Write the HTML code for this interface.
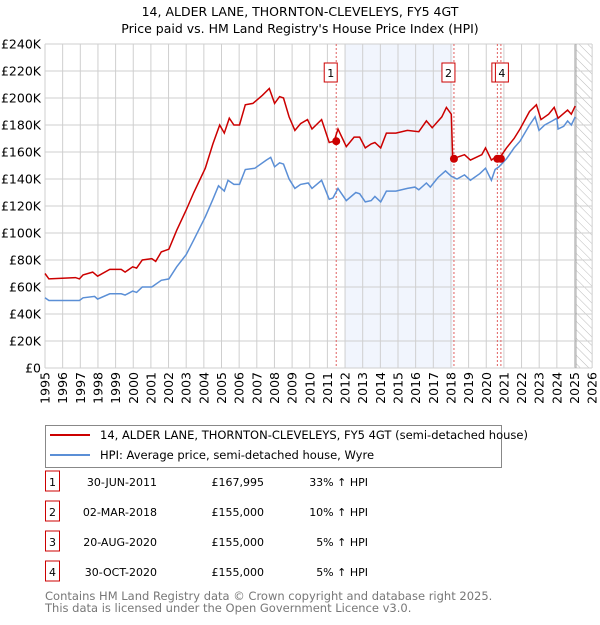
<!DOCTYPE html>
<html><head><meta charset="utf-8"><style>
body{margin:0;background:#fff;font-family:"Liberation Sans","DejaVu Sans",sans-serif;}
svg text{font-family:"DejaVu Sans","Liberation Sans",sans-serif;}
</style></head><body>
<svg width="600" height="620" xmlns="http://www.w3.org/2000/svg">
<defs><pattern id="hatch" width="6" height="6" patternUnits="userSpaceOnUse" patternTransform="rotate(-45)"><line x1="0" y1="0" x2="0" y2="6" stroke="#bbb" stroke-width="1"/></pattern></defs>
<text x="300" y="16" text-anchor="middle" font-size="12.5">14, ALDER LANE, THORNTON-CLEVELEYS, FY5 4GT</text>
<text x="300" y="33" text-anchor="middle" font-size="12.5">Price paid vs. HM Land Registry's House Price Index (HPI)</text>
<g id="plot"></g>
<g>
<rect x="45.5" y="425.5" width="456" height="42" fill="#fff" stroke="#888"/>
<line x1="50" y1="435" x2="90" y2="435" stroke="#cc0000" stroke-width="2"/>
<text x="100" y="439" font-size="11.5">14, ALDER LANE, THORNTON-CLEVELEYS, FY5 4GT (semi-detached house)</text>
<line x1="50" y1="455" x2="90" y2="455" stroke="#5b8fd6" stroke-width="2"/>
<text x="100" y="459" font-size="11.5">HPI: Average price, semi-detached house, Wyre</text>
</g>
<g id="table" font-size="11"></g>
<text x="45" y="600" font-size="11.5" fill="#777">Contains HM Land Registry data © Crown copyright and database right 2025.</text>
<text x="45" y="612" font-size="11.5" fill="#777">This data is licensed under the Open Government Licence v3.0.</text>
</svg>
<script>
const hpiYears=[1995.00,1995.22,1996.73,1996.95,1997.16,1997.81,1997.98,1998.67,1999.32,1999.54,1999.97,2000.19,2000.51,2001.05,2001.59,2002.02,2002.46,2003.00,2003.43,2004.08,2004.51,2004.83,2005.16,2005.37,2005.70,2006.02,2006.35,2006.89,2007.54,2007.79,2008.01,2008.29,2008.51,2008.83,2009.16,2009.48,2009.91,2010.13,2010.67,2011.10,2011.32,2011.60,2012.07,2012.61,2012.83,2013.15,2013.48,2013.69,2014.02,2014.34,2014.88,2015.53,2015.96,2016.18,2016.61,2016.83,2017.26,2017.69,2018.02,2018.34,2018.77,2019.10,2019.64,2019.96,2020.29,2020.50,2020.72,2021.15,2021.58,2021.91,2022.45,2022.77,2022.99,2023.31,2023.74,2024.00,2024.07,2024.39,2024.61,2024.82,2025.04];
const hpiValues=[52,50,50,50,52,53,51,55,55,54,57,56,60,60,65,66,75,84,95,112,125,135,131,139,136,136,147,148,154,156,149,152,151,140,133,136,137,133,139,125,126,133,124,130,129,123,124,127,123,131,131,133,134,132,137,134,141,146,142,140,143,139,144,148,139,147,149,155,163,168,180,186,176,180,183,185,177,179,183,180,186];
const priceYears=[1995.00,1995.22,1996.73,1996.95,1997.16,1997.70,1997.98,1998.67,1999.32,1999.54,1999.97,2000.19,2000.51,2001.05,2001.27,2001.59,2002.02,2002.46,2003.00,2003.43,2004.08,2004.51,2004.90,2005.16,2005.44,2005.70,2006.02,2006.35,2006.78,2007.32,2007.71,2008.01,2008.29,2008.51,2008.83,2009.16,2009.48,2009.87,2010.13,2010.67,2011.10,2011.38,2011.60,2012.07,2012.51,2012.83,2013.15,2013.48,2013.69,2014.02,2014.34,2014.88,2015.53,2016.18,2016.61,2016.94,2017.48,2017.74,2018.02,2018.10,2018.77,2019.10,2019.75,2019.96,2020.29,2020.50,2020.72,2021.15,2021.58,2021.91,2022.45,2022.84,2023.10,2023.53,2023.85,2024.07,2024.61,2024.82,2025.04];
const priceValues=[70,66,67,66,69,71,68,73,73,71,75,74,80,81,79,86,88,102,117,130,148,166,180,174,185,180,180,195,196,202,207,196,201,200,186,176,181,184,177,184,167,168,177,164,171,171,163,166,167,163,174,174,176,175,183,178,186,193,188,155,158,154,158,163,154,156,155,163,170,177,190,195,184,188,193,185,191,188,194];
const saleYears=[2011.5,2018.17,2020.63,2020.83];
const saleValues=[168,155,155,155];
const saleLabels=["1","2","3","4"];
const saleDates=["30-JUN-2011","02-MAR-2018","20-AUG-2020","30-OCT-2020"];
const salePrices=["£167,995","£155,000","£155,000","£155,000"];
const salePcts=["33% ↑ HPI","10% ↑ HPI","5% ↑ HPI","5% ↑ HPI"];
const yTicks=[0,20,40,60,80,100,120,140,160,180,200,220,240];
const xTicks=[1995,1996,1997,1998,1999,2000,2001,2002,2003,2004,2005,2006,2007,2008,2009,2010,2011,2012,2013,2014,2015,2016,2017,2018,2019,2020,2021,2022,2023,2024,2025,2026];

const NS="http://www.w3.org/2000/svg";
const X=y=>45+(y-1995)*17.65, Y=v=>368-v*1.35;
const plot=document.getElementById('plot');
function mk(tag,at,parent){const e=document.createElementNS(NS,tag);for(const k in at)e.setAttribute(k,at[k]);(parent||plot).appendChild(e);return e;}
let e;
e=mk('rect',{x:X(2012),y:44,width:X(2018.1)-X(2012),height:324,fill:'#f1f5fd'});


e=mk('rect',{x:X(2025.08),y:44,width:592-X(2025.08),height:324,fill:'url(#hatch)'});


yTicks.forEach(t=>{
 e=mk('line',{x1:45,x2:592,y1:Y(t),y2:Y(t),stroke:'#cfcfcf'});
 
 
 e=mk('text',{x:41,y:Y(t)+4.5,'text-anchor':'end','font-size':'12.5'});e.textContent=t===0?'£0':'£'+t+'K';
 
 
});
xTicks.forEach(t=>{
 e=mk('line',{x1:X(t),x2:X(t),y1:44,y2:368,stroke:'#cfcfcf'});
 
 
 e=mk('text',{x:0,y:0,'text-anchor':'end','font-size':'12.5',transform:`translate(${X(t)+4.5},372) rotate(-90)`});e.textContent=t;
 
 
});
e=mk('line',{x1:X(2025.08),x2:X(2025.08),y1:44,y2:368,stroke:'#999'});


saleYears.forEach((s,i)=>{
 e=mk('line',{x1:X(s),x2:X(s),y1:44,y2:368,stroke:'#e06060','stroke-dasharray':'2,2'});
 
 
});
function path(xs,vs,col,name){
 e=mk('path',{d:xs.map((x,i)=>(i?'L':'M')+X(x).toFixed(1)+','+Y(vs[i]).toFixed(1)).join(''),fill:'none',stroke:col,'stroke-width':1.5});
 
 
}
path(hpiYears,hpiValues,'#5b8fd6','hpi-line');
path(priceYears,priceValues,'#cc0000','price-line');
saleYears.forEach((s,i)=>{
 e=mk('circle',{cx:X(s),cy:Y(saleValues[i]),r:4,fill:'#cc0000'});
 
 
});
[0,1,2,3].forEach(i=>{
 const bx=X(saleYears[i])-(i>=2?5.5:12);
 e=mk('rect',{x:bx,y:63,width:13,height:19,fill:'#fff',stroke:'#cc0000'});
 
 
 e=mk('text',{x:bx+6.5,y:77,'text-anchor':'middle','font-size':'11'});e.textContent=saleLabels[i];
 
 
});
const tb=document.getElementById('table');
saleLabels.forEach((l,i)=>{
 const y=483+i*30;
 e=mk('rect',{x:45.5,y:y-12,width:14,height:20,fill:'#fff',stroke:'#cc0000'},tb);
 
 
 e=mk('text',{x:52.5,y:y+3,'text-anchor':'middle'},tb);e.textContent=l;
 
 
 e=mk('text',{x:157,y:y+3,'text-anchor':'end'},tb);e.textContent=saleDates[i];
 
 
 e=mk('text',{x:264,y:y+3,'text-anchor':'end'},tb);e.textContent=salePrices[i];
 
 
 e=mk('text',{x:368,y:y+3,'text-anchor':'end'},tb);e.textContent=salePcts[i];
 
 
});
</script>
</body></html>
